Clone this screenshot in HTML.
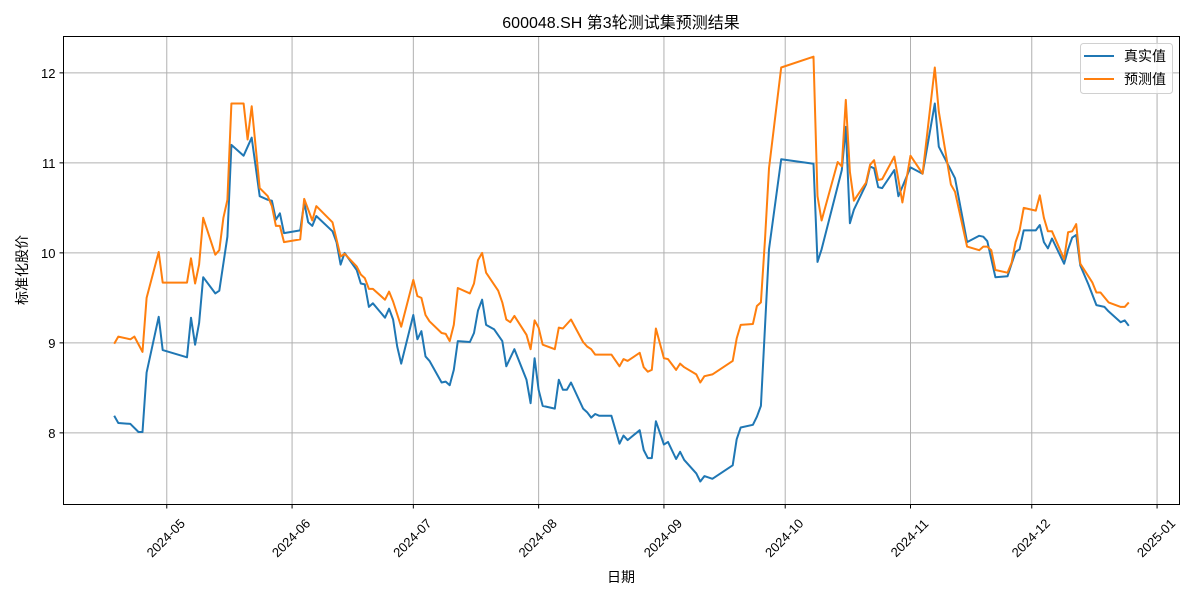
<!DOCTYPE html>
<html><head><meta charset="utf-8"><style>
html,body{margin:0;padding:0;background:#fff;}
svg{display:block;font-family:"Liberation Sans","Noto Sans CJK SC",sans-serif;}
</style></head><body>
<svg id="chart" width="1200" height="600" viewBox="0 0 1200 600" xmlns="http://www.w3.org/2000/svg">
<rect x="0" y="0" width="1200" height="600" fill="#fff"/>
<text x="621" y="28" font-size="16" text-anchor="middle" fill="#000">600048.SH 第3轮测试集预测结果</text>
<g id="grid"></g>
<g id="series"></g>
<rect x="63.5" y="36.5" width="1116" height="468" fill="none" stroke="#000" stroke-width="1"/>
<g id="xticks"></g>
<g id="yticks"></g>
<text x="621" y="582" font-size="14" text-anchor="middle">日期</text>
<text transform="translate(27,270) rotate(-90)" font-size="14" text-anchor="middle">标准化股价</text>
<g>
<rect x="1080.5" y="43.5" width="92" height="50" rx="3" fill="#fff" fill-opacity="0.8" stroke="#d0d0d0"/>
<line x1="1084" y1="56" x2="1114" y2="56" stroke="#1f77b4" stroke-width="2"/>
<text x="1124" y="61" font-size="14">真实值</text>
<line x1="1084" y1="79" x2="1114" y2="79" stroke="#ff7f0e" stroke-width="2"/>
<text x="1124" y="84" font-size="14">预测值</text>
</g>
</svg>
<script>
const actualDates=["04-18","04-19","04-22","04-24","04-25","04-26","04-29","04-30","05-06","05-07","05-08","05-09","05-10","05-13","05-14","05-16","05-17","05-20","05-22","05-24","05-26","05-27","05-28","05-29","05-30","06-03","06-04","06-05","06-06","06-07","06-11","06-12","06-13","06-14","06-17","06-18","06-19","06-20","06-21","06-24","06-25","06-26","06-27","06-28","07-01","07-02","07-03","07-04","07-05","07-08","07-09","07-10","07-11","07-12","07-15","07-16","07-17","07-18","07-19","07-21","07-23","07-24","07-26","07-29","07-30","07-31","08-01","08-02","08-05","08-06","08-07","08-08","08-09","08-12","08-13","08-14","08-15","08-16","08-19","08-21","08-22","08-23","08-26","08-27","08-28","08-29","08-30","09-01","09-02","09-04","09-05","09-06","09-09","09-10","09-11","09-13","09-18","09-19","09-20","09-23","09-24","09-25","09-26","09-27","09-30","10-08","10-09","10-10","10-15","10-16","10-17","10-18","10-21","10-22","10-23","10-24","10-25","10-28","10-29","11-01","11-04","11-07","11-08","11-12","11-15","11-18","11-19","11-20","11-22","11-25","11-26","11-27","11-28","11-29","12-02","12-03","12-04","12-05","12-06","12-09","12-10","12-11","12-12","12-13","12-15","12-17","12-19","12-20","12-23","12-24","12-25"];
const actualValues=[8.19,8.11,8.10,8.01,8.01,8.67,9.29,8.92,8.84,9.28,8.98,9.22,9.73,9.55,9.58,10.18,11.20,11.08,11.28,10.63,10.59,10.58,10.37,10.44,10.22,10.25,10.56,10.34,10.30,10.41,10.24,10.12,9.87,10.00,9.81,9.66,9.65,9.40,9.44,9.28,9.38,9.26,8.96,8.77,9.31,9.04,9.13,8.85,8.80,8.56,8.57,8.53,8.70,9.02,9.01,9.11,9.36,9.48,9.20,9.15,9.02,8.74,8.93,8.59,8.33,8.83,8.48,8.30,8.27,8.59,8.48,8.48,8.56,8.27,8.23,8.17,8.21,8.19,8.19,7.88,7.97,7.92,8.03,7.81,7.72,7.72,8.13,7.87,7.90,7.71,7.79,7.70,7.55,7.46,7.52,7.49,7.64,7.93,8.06,8.09,8.18,8.30,9.18,10.04,11.04,10.99,9.90,10.04,10.92,11.40,10.33,10.48,10.76,10.96,10.94,10.73,10.72,10.92,10.63,10.95,10.88,11.66,11.18,10.83,10.12,10.19,10.18,10.13,9.73,9.74,9.88,10.01,10.04,10.25,10.25,10.31,10.12,10.05,10.16,9.88,10.04,10.17,10.20,9.86,9.65,9.42,9.40,9.35,9.23,9.25,9.19];
const predDates=["04-18","04-19","04-22","04-23","04-25","04-26","04-29","04-30","05-06","05-07","05-08","05-09","05-10","05-13","05-14","05-15","05-16","05-17","05-20","05-21","05-22","05-24","05-26","05-27","05-28","05-29","05-30","06-03","06-04","06-06","06-07","06-11","06-13","06-14","06-17","06-18","06-19","06-20","06-21","06-24","06-25","06-26","06-28","07-01","07-02","07-03","07-04","07-05","07-08","07-09","07-10","07-11","07-12","07-15","07-16","07-17","07-18","07-19","07-22","07-23","07-24","07-25","07-26","07-29","07-30","07-31","08-01","08-02","08-05","08-06","08-07","08-09","08-12","08-13","08-14","08-15","08-19","08-21","08-22","08-23","08-26","08-27","08-28","08-29","08-30","09-01","09-02","09-04","09-05","09-06","09-09","09-10","09-11","09-13","09-18","09-19","09-20","09-23","09-24","09-25","09-26","09-27","09-30","10-08","10-09","10-10","10-14","10-15","10-16","10-17","10-18","10-21","10-22","10-23","10-24","10-25","10-28","10-30","11-01","11-04","11-07","11-08","11-11","11-12","11-15","11-18","11-19","11-20","11-21","11-22","11-25","11-26","11-27","11-28","11-29","12-02","12-03","12-04","12-05","12-06","12-09","12-10","12-11","12-12","12-13","12-16","12-17","12-18","12-20","12-23","12-24","12-25"];
const predValues=[8.99,9.07,9.04,9.07,8.90,9.50,10.01,9.67,9.67,9.94,9.66,9.87,10.39,9.98,10.03,10.39,10.59,11.66,11.66,11.26,11.63,10.72,10.63,10.52,10.30,10.30,10.12,10.15,10.60,10.36,10.52,10.34,9.96,9.99,9.85,9.76,9.72,9.60,9.60,9.48,9.57,9.46,9.18,9.70,9.52,9.50,9.31,9.24,9.11,9.10,9.02,9.20,9.61,9.55,9.66,9.92,10.00,9.78,9.58,9.45,9.26,9.23,9.30,9.09,8.93,9.25,9.17,8.98,8.93,9.17,9.16,9.26,9.01,8.96,8.93,8.87,8.87,8.74,8.82,8.80,8.89,8.73,8.68,8.70,9.16,8.83,8.82,8.70,8.77,8.73,8.65,8.56,8.63,8.65,8.80,9.05,9.20,9.21,9.41,9.45,10.15,10.94,12.06,12.18,10.63,10.36,11.01,10.96,11.70,10.90,10.58,10.78,10.98,11.03,10.81,10.82,11.07,10.56,11.08,10.88,12.06,11.57,10.76,10.68,10.07,10.03,10.07,10.07,10.03,9.81,9.78,9.89,10.12,10.25,10.50,10.47,10.64,10.39,10.24,10.24,9.93,10.23,10.24,10.32,9.88,9.67,9.56,9.56,9.45,9.40,9.40,9.45];
const xTickLabels=["2024-05","2024-06","2024-07","2024-08","2024-09","2024-10","2024-11","2024-12","2025-01"];
const yTickValues=[8,9,10,11,12];

const NS="http://www.w3.org/2000/svg";
const PL=63.5,PR=1179.5,PT=36.5,PB=504.5;
function toDay(s){const p=s.split("-");const y=p.length===3?+p[0]:2024;const m=p.length===3?+p[1]:+p[0];const d=p.length===3?+p[2]:+p[1];return Date.UTC(y,m-1,d)/86400000;}
const allDays=actualDates.concat(predDates).map(toDay);
const dMin=Math.min(...allDays),dMax=Math.max(...allDays),dPad=(dMax-dMin)*0.05;
function xScale(day){return PL+(day-(dMin-dPad))/((dMax+dPad)-(dMin-dPad))*(PR-PL);}
const yMin=7.204,yMax=12.404;
function yScale(v){return PB-(v-yMin)/(yMax-yMin)*(PB-PT);}
function mk(tag,attrs,parent){const e=document.createElementNS(NS,tag);for(const k in attrs)e.setAttribute(k,attrs[k]);parent.appendChild(e);return e;}
const grid=document.getElementById("grid"),xt=document.getElementById("xticks"),yt=document.getElementById("yticks"),ser=document.getElementById("series");
xTickLabels.forEach(lbl=>{
  const x=xScale(toDay(lbl+"-01"));
  const g=mk("line",{x1:x,y1:PT,x2:x,y2:PB,stroke:"#b0b0b0","stroke-width":1},grid);
  
  
  const t=mk("line",{x1:x,y1:PB,x2:x,y2:PB+4,stroke:"#000"},xt);
  
  
  const tx=mk("text",{x:0,y:0,"font-size":13,"text-anchor":"middle","dominant-baseline":"central",transform:`translate(${x-1},${538}) rotate(-45)`},xt);
  tx.textContent=lbl;
  
  
});
yTickValues.forEach(v=>{
  const y=yScale(v);
  const g=mk("line",{x1:PL,y1:y,x2:PR,y2:y,stroke:"#b0b0b0","stroke-width":1},grid);
  
  
  const t=mk("line",{x1:PL-4,y1:y,x2:PL,y2:y,stroke:"#000"},yt);
  
  
  const tx=mk("text",{x:PL-8,y:y+5,"font-size":13,"text-anchor":"end"},yt);
  tx.textContent=String(v);
  
  
});
function line(dates,vals,color,name){
  const d=dates.map((s,i)=>(i?"L":"M")+xScale(toDay(s)).toFixed(1)+","+yScale(vals[i]).toFixed(1)).join(" ");
  const p=mk("path",{d:d,fill:"none",stroke:color,"stroke-width":2,"stroke-linejoin":"round"},ser);
  
  
}
line(actualDates,actualValues,"#1f77b4","actual-price-line");
line(predDates,predValues,"#ff7f0e","predicted-price-line");
</script>
</body></html>
